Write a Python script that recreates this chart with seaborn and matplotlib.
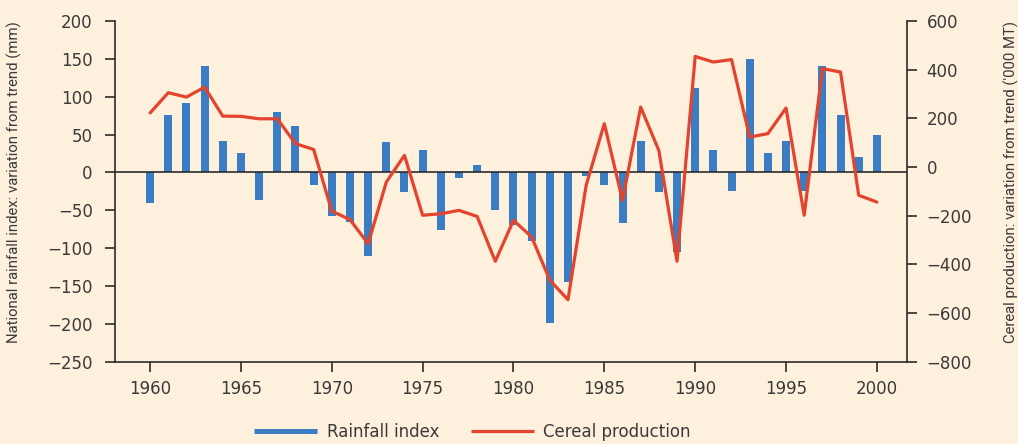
import numpy as np
import pandas as pd
import matplotlib
matplotlib.use("Agg")
import matplotlib.pyplot as plt
from matplotlib.lines import Line2D
import seaborn as sns

years = list(range(1960, 2001))
rainfall = [-40, 76, 92, 140, 41, 25, -36, 80, 61, -16,
            -58, -65, -110, 40, -26, 30, -76, -7, 10, -50,
            -70, -90, -199, -145, -5, -16, -67, 41, -26, -105,
            111, 30, -25, 150, 25, 42, -24, 140, 76, 20, 49]
cereal = [222, 305, 287, 328, 209, 208, 198, 198, 96, 72,
          -181, -216, -315, -62, 48, -198, -192, -178, -203, -387,
          -219, -287, -465, -545, -75, 178, -137, 246, 68, -387,
          454, 431, 441, 123, 137, 242, -198, 404, 390, -116, -144]
left_ticks = [200, 150, 100, 50, 0, -50, -100, -150, -200, -250]
right_ticks = [600, 400, 200, 0, -200, -400, -600, -800]
x_ticks = [1960, 1965, 1970, 1975, 1980, 1985, 1990, 1995, 2000]

df = pd.DataFrame({"year": years, "rain": rainfall, "cereal": cereal})

bg = "#FDF0DC"
blue = "#3A7DC2"
red = "#E4432D"
dark = "#2b2b2b"
txt = "#3a3a3a"

sns.set_style("white")
plt.rcParams["font.family"] = ["DejaVu Sans"]
narrow = ["Roboto", "DejaVu Sans"]

fig = plt.figure(figsize=(10.18, 4.44), dpi=100, facecolor=bg)
ax = fig.add_axes([0.113, 0.185, 0.778, 0.768])
ax.set_facecolor(bg)

sns.barplot(data=df, x="year", y="rain", native_scale=True, color=blue,
            saturation=1, width=0.44, ax=ax, linewidth=0)
ax.axhline(0, color=dark, lw=1.2, zorder=1)

ax.set_xlim(1958.07, 2001.66)
ax.set_ylim(-250, 200)
ax.set_xticks(x_ticks)
ax.set_yticks(left_ticks)
ax.set_xlabel("")
ax.set_ylabel("National rainfall index: variation from trend (mm)",
              fontsize=10.7, color=txt, family=narrow)
ax.yaxis.set_label_coords(-0.117, 0.527)
ax.spines["top"].set_visible(False)
ax.spines["right"].set_visible(False)
for s in ["left", "bottom"]:
    ax.spines[s].set_color(dark)
    ax.spines[s].set_linewidth(1.2)
ax.tick_params(axis="both", direction="out", length=7, width=1.2, color=dark,
               labelsize=12, labelcolor=txt, left=True, bottom=True)
ax.tick_params(axis="y", pad=9)
ax.tick_params(axis="x", pad=6)

ax2 = ax.twinx()
sns.lineplot(data=df, x="year", y="cereal", color=red, lw=2.3, ax=ax2)
ax2.set_ylim(-800, 600)
ax2.set_yticks(right_ticks)
ax2.set_xlim(1958.07, 2001.66)
ax2.set_ylabel("Cereal production: variation from trend ('000 MT)",
               fontsize=10.7, color=txt, family=narrow, rotation=90)
ax2.yaxis.set_label_coords(1.1215, 0.527)
ax2.spines["top"].set_visible(False)
ax2.spines["left"].set_visible(False)
ax2.spines["bottom"].set_visible(False)
ax2.spines["right"].set_color(dark)
ax2.spines["right"].set_linewidth(1.2)
ax2.tick_params(axis="y", direction="out", length=7, width=1.2, color=dark,
                labelsize=12, labelcolor=txt, right=True, pad=7)

handles = [Line2D([0], [0], color=blue, lw=3.6, solid_capstyle="butt"),
           Line2D([0], [0], color=red, lw=2.3, solid_capstyle="butt")]
fig.legend(handles, ["Rainfall index", "Cereal production"], loc="center",
           bbox_to_anchor=(0.464, 0.027), ncol=2, frameon=False, fontsize=12,
           handlelength=3.8, handletextpad=0.55, columnspacing=1.9,
           labelcolor=txt, borderaxespad=0, borderpad=0)

fig.savefig("out.png", dpi=100, facecolor=bg)
